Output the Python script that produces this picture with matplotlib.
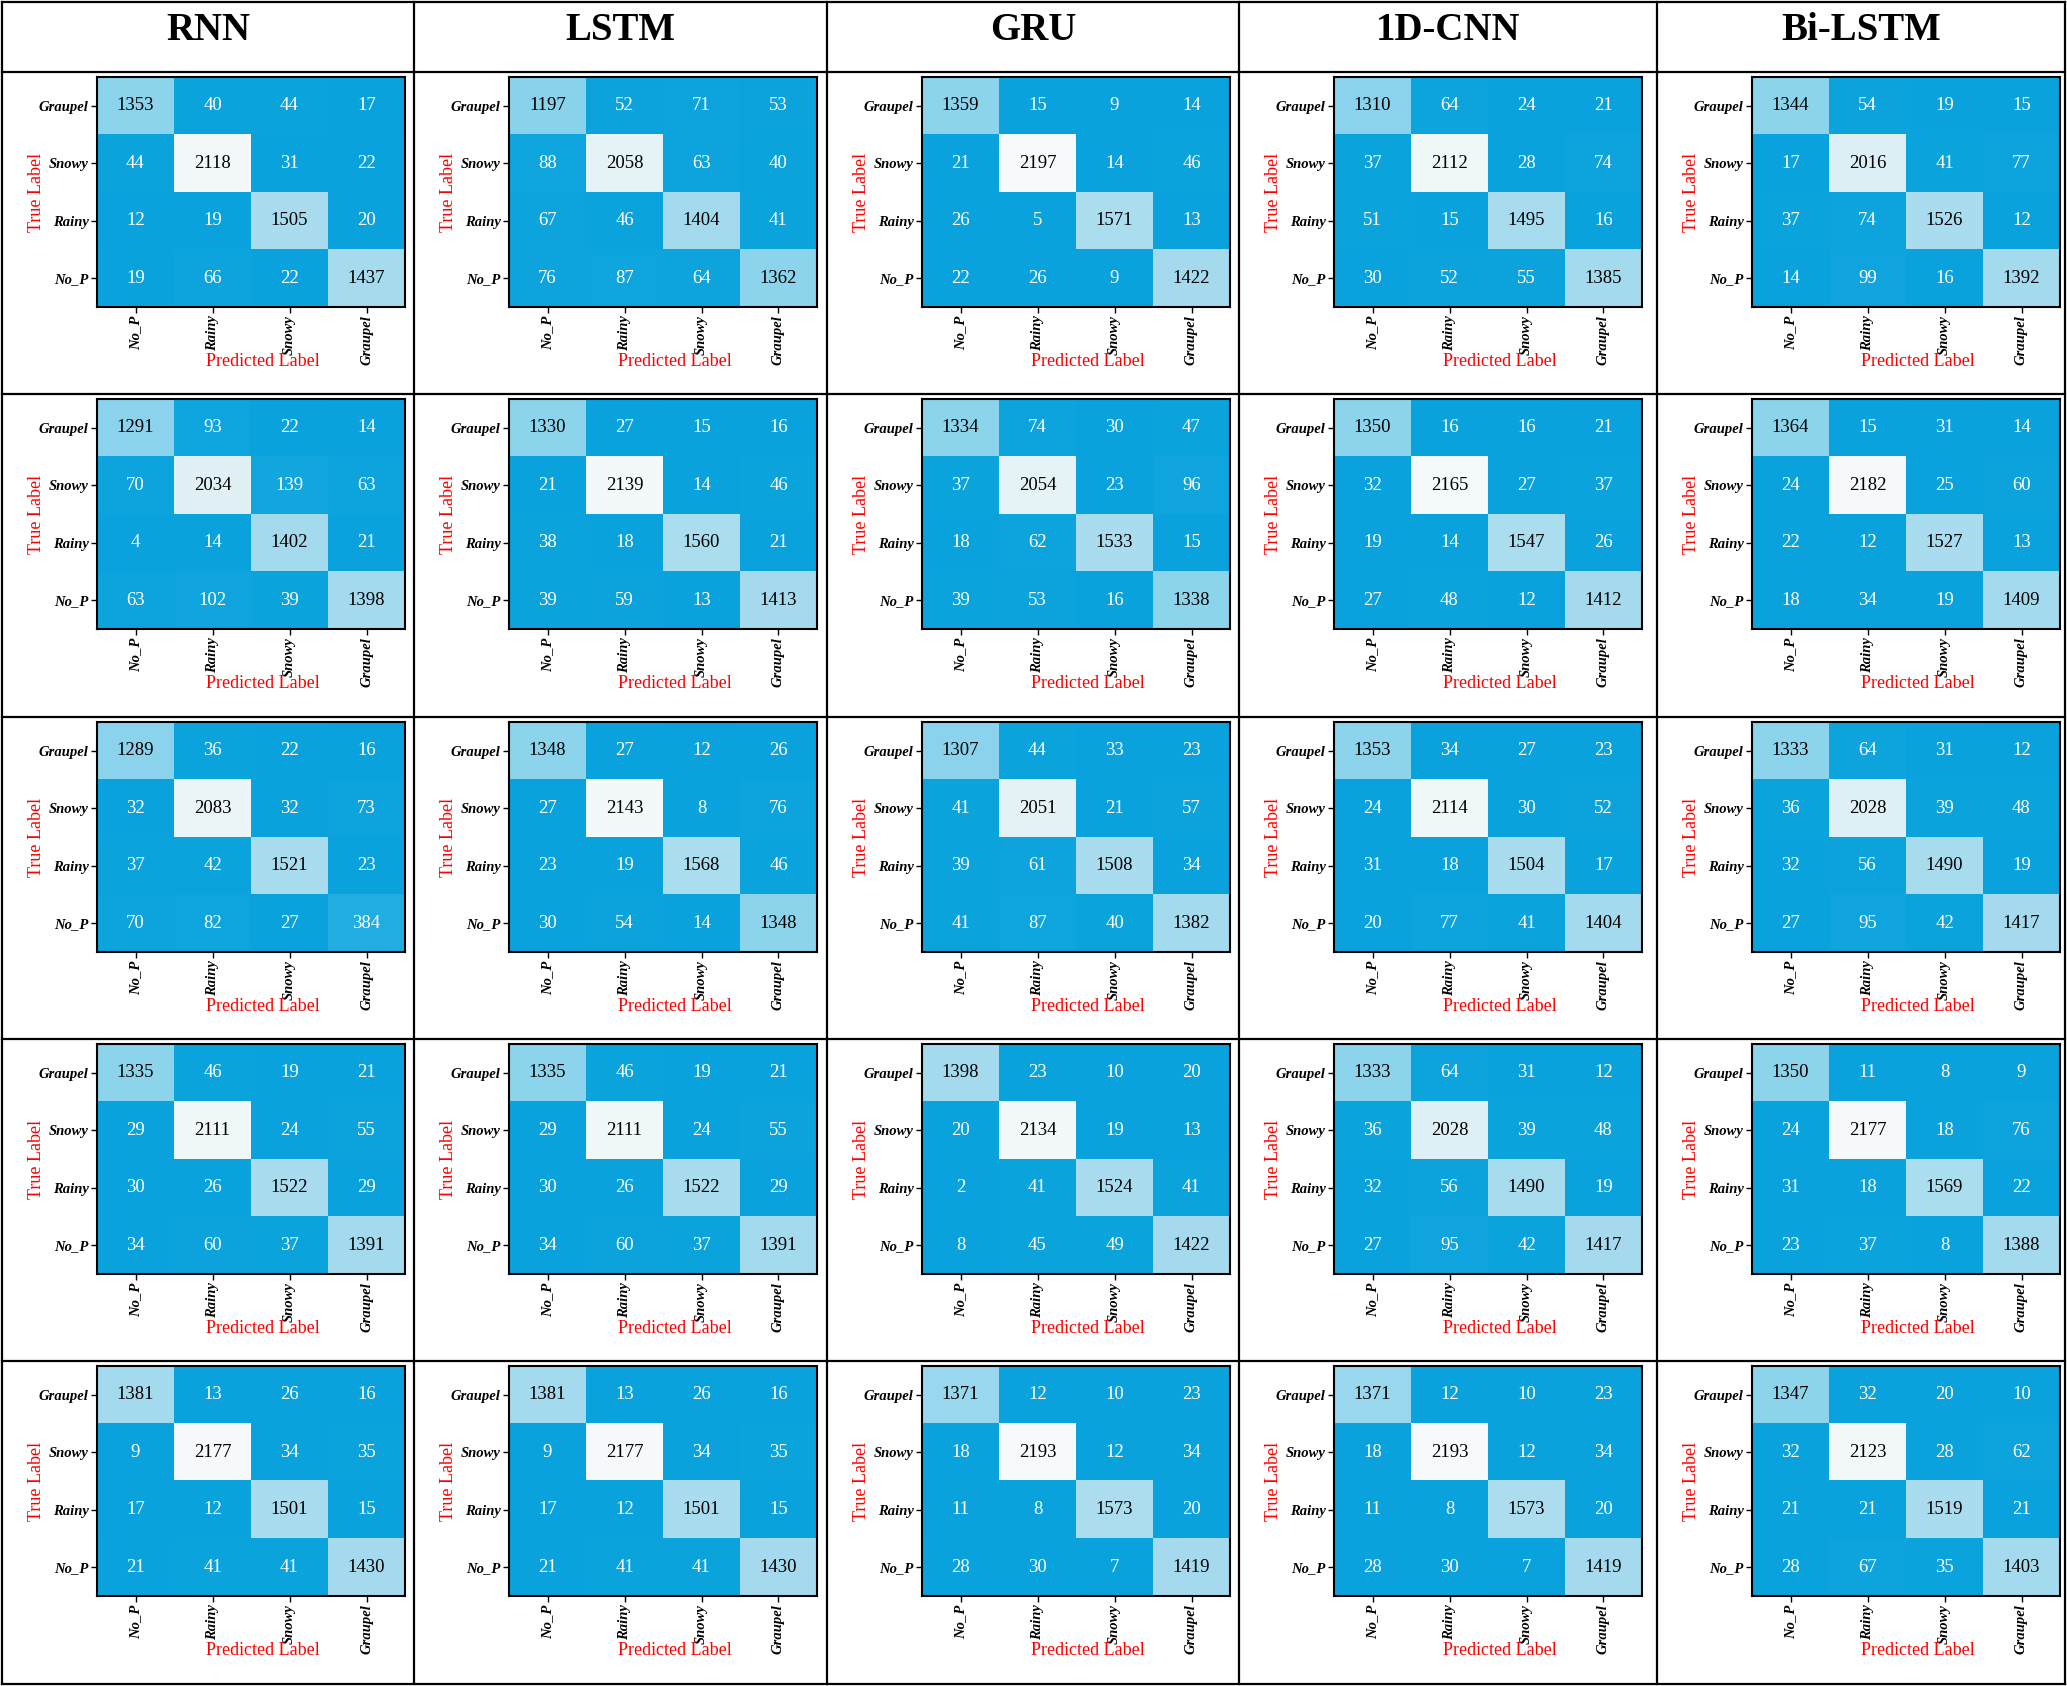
import numpy as np
import matplotlib.pyplot as plt
from matplotlib.colors import LinearSegmentedColormap
from matplotlib.lines import Line2D

models = ['RNN', 'LSTM', 'GRU', '1D-CNN', 'Bi-LSTM']
true_labels = ['Graupel', 'Snowy', 'Rainy', 'No_P']      # rows, top to bottom
pred_labels = ['No_P', 'Rainy', 'Snowy', 'Graupel']      # columns, left to right

# one list per model, five experiments (table rows) each
rnn = [
    [[1353, 40, 44, 17], [44, 2118, 31, 22], [12, 19, 1505, 20], [19, 66, 22, 1437]],
    [[1291, 93, 22, 14], [70, 2034, 139, 63], [4, 14, 1402, 21], [63, 102, 39, 1398]],
    [[1289, 36, 22, 16], [32, 2083, 32, 73], [37, 42, 1521, 23], [70, 82, 27, 384]],
    [[1335, 46, 19, 21], [29, 2111, 24, 55], [30, 26, 1522, 29], [34, 60, 37, 1391]],
    [[1381, 13, 26, 16], [9, 2177, 34, 35], [17, 12, 1501, 15], [21, 41, 41, 1430]],
]
lstm = [
    [[1197, 52, 71, 53], [88, 2058, 63, 40], [67, 46, 1404, 41], [76, 87, 64, 1362]],
    [[1330, 27, 15, 16], [21, 2139, 14, 46], [38, 18, 1560, 21], [39, 59, 13, 1413]],
    [[1348, 27, 12, 26], [27, 2143, 8, 76], [23, 19, 1568, 46], [30, 54, 14, 1348]],
    [[1335, 46, 19, 21], [29, 2111, 24, 55], [30, 26, 1522, 29], [34, 60, 37, 1391]],
    [[1381, 13, 26, 16], [9, 2177, 34, 35], [17, 12, 1501, 15], [21, 41, 41, 1430]],
]
gru = [
    [[1359, 15, 9, 14], [21, 2197, 14, 46], [26, 5, 1571, 13], [22, 26, 9, 1422]],
    [[1334, 74, 30, 47], [37, 2054, 23, 96], [18, 62, 1533, 15], [39, 53, 16, 1338]],
    [[1307, 44, 33, 23], [41, 2051, 21, 57], [39, 61, 1508, 34], [41, 87, 40, 1382]],
    [[1398, 23, 10, 20], [20, 2134, 19, 13], [2, 41, 1524, 41], [8, 45, 49, 1422]],
    [[1371, 12, 10, 23], [18, 2193, 12, 34], [11, 8, 1573, 20], [28, 30, 7, 1419]],
]
cnn1d = [
    [[1310, 64, 24, 21], [37, 2112, 28, 74], [51, 15, 1495, 16], [30, 52, 55, 1385]],
    [[1350, 16, 16, 21], [32, 2165, 27, 37], [19, 14, 1547, 26], [27, 48, 12, 1412]],
    [[1353, 34, 27, 23], [24, 2114, 30, 52], [31, 18, 1504, 17], [20, 77, 41, 1404]],
    [[1333, 64, 31, 12], [36, 2028, 39, 48], [32, 56, 1490, 19], [27, 95, 42, 1417]],
    [[1371, 12, 10, 23], [18, 2193, 12, 34], [11, 8, 1573, 20], [28, 30, 7, 1419]],
]
bilstm = [
    [[1344, 54, 19, 15], [17, 2016, 41, 77], [37, 74, 1526, 12], [14, 99, 16, 1392]],
    [[1364, 15, 31, 14], [24, 2182, 25, 60], [22, 12, 1527, 13], [18, 34, 19, 1409]],
    [[1333, 64, 31, 12], [36, 2028, 39, 48], [32, 56, 1490, 19], [27, 95, 42, 1417]],
    [[1350, 11, 8, 9], [24, 2177, 18, 76], [31, 18, 1569, 22], [23, 37, 8, 1388]],
    [[1347, 32, 20, 10], [32, 2123, 28, 62], [21, 21, 1519, 21], [28, 67, 35, 1403]],
]
all_runs = [rnn, lstm, gru, cnn1d, bilstm]

# blue -> white map, same scale for every panel
cmap = LinearSegmentedColormap.from_list('cm_blue', [
    (0.0, '#09A2DC'), (0.18, '#24AEE2'), (0.5, '#7FCEEB'), (0.54, '#89D2EC'),
    (0.62, '#8DD4EC'), (0.627, '#A4DAEE'), (0.73, '#ACDEEF'), (0.916, '#DCEFF5'),
    (0.963, '#F2F8F8'), (1.0, '#F6FAFA')])
vmax = 2200

serif = 'Liberation Serif'
W, H = 2067, 1686
fig = plt.figure(figsize=(W / 100, H / 100), dpi=100)

col_edges = [2, 414, 827, 1239, 1657, 2065]
row_edges = [2, 72, 394, 717, 1039, 1361, 1684]

# table lines
for x in col_edges:
    fig.add_artist(Line2D([x / W, x / W], [1 - 2 / H, 1 - 1684 / H], color='black', lw=1.6))
for y in row_edges:
    fig.add_artist(Line2D([2 / W, 2065 / W], [1 - y / H, 1 - y / H], color='black', lw=1.6))

for c, name in enumerate(models):
    cx = (col_edges[c] + col_edges[c + 1]) / 2
    fig.text(cx / W, 1 - 30 / H, name, ha='center', va='center',
             fontsize=28, fontweight='bold', family=serif)

    for r in range(5):
        m = np.array(all_runs[c][r])
        left = col_edges[c] + 95
        top = row_edges[r + 1] + 5
        w, h = 308, 230
        ax = fig.add_axes([left / W, 1 - (top + h) / H, w / W, h / H])
        ax.imshow(m, cmap=cmap, vmin=0, vmax=vmax, aspect='auto')
        for i in range(4):
            for j in range(4):
                v = m[i, j]
                ax.text(j, i, str(v), ha='center', va='center', fontsize=13.5,
                        family=serif, color='black' if v > vmax / 2 else 'white')
        ax.set_xticks(range(4))
        ax.set_xticklabels(pred_labels, rotation=90, fontsize=10.5,
                           fontstyle='italic', fontweight='bold', family=serif)
        ax.set_yticks(range(4))
        ax.set_yticklabels(true_labels, fontsize=10.5,
                           fontstyle='italic', fontweight='bold', family=serif)
        ax.tick_params(length=4, width=1, pad=2)
        for s in ax.spines.values():
            s.set_linewidth(1.5)
        ax.text(0.54, -0.235, 'Predicted Label', transform=ax.transAxes, ha='center',
                va='center', color='red', fontsize=13, family=serif)
        ax.text(-0.195, 0.5, 'True Label', transform=ax.transAxes, ha='center',
                va='center', rotation=90, color='red', fontsize=13, family=serif)

fig.savefig('out.png', dpi=100)
